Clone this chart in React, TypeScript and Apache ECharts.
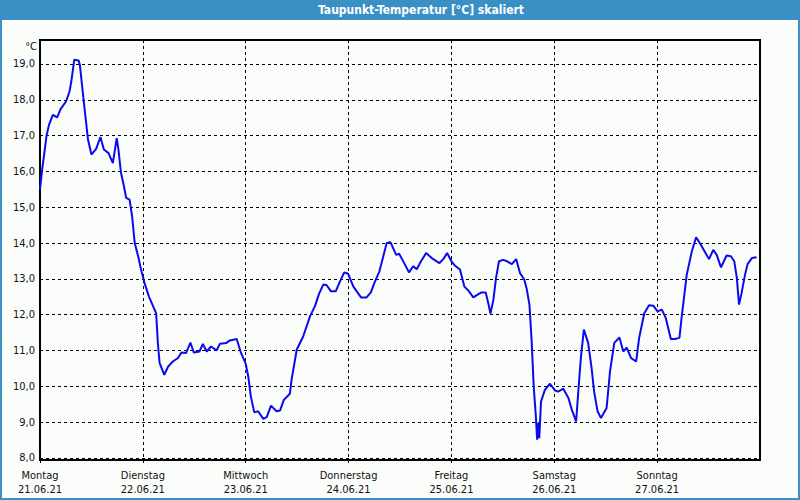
import React, { useEffect, useRef } from "react";
import * as echarts from "echarts";

const TITLE = "Taupunkt-Temperatur [°C] skaliert";
const UNIT = "°C";
const DAY_NAMES = ["Montag", "Dienstag", "Mittwoch", "Donnerstag", "Freitag", "Samstag", "Sonntag"];
const DAY_DATES = ["21.06.21", "22.06.21", "23.06.21", "24.06.21", "25.06.21", "26.06.21", "27.06.21"];

// hours since Monday 00:00
const HOURS = [
  0, 0.5, 1, 1.5, 2.1, 3, 4, 4.8, 6.1, 6.9, 7.3, 8, 9, 9.3, 10, 10.6, 11.2, 12, 13.1, 14.1,
  14.9, 16, 17, 17.9, 18.3, 18.9, 19.6, 20.1, 20.9, 21.5, 22.1, 22.9, 23.6, 24.4, 25.4, 26.4, 27.1, 27.5, 27.9, 29,
  29.9, 31, 32.2, 33, 34.1, 35.1, 35.9, 37.2, 38, 38.9, 39.9, 41.2, 42, 43.5, 44.3, 45.9, 46.9, 48, 48.6, 49.2,
  50, 50.9, 52.1, 52.9, 53.9, 55.2, 56, 56.9, 58.3, 58.7, 59.9, 61.4, 63, 64.2, 65.1, 66.1, 66.9, 67.9, 69, 70,
  71, 71.9, 73.1, 73.9, 74.9, 76.2, 77.2, 78, 79.2, 80.1, 80.9, 81.8, 83.1, 83.8, 85.2, 86.1, 87.1, 87.9, 88.9, 90.1,
  91.4, 93.2, 94.1, 95, 96, 96.8, 98, 99, 100.1, 101.1, 102.1, 103, 104, 104.6, 105.1, 105.8, 106.4, 107.1, 108.1, 109,
  110.1, 111.1, 112, 113, 113.6, 114.2, 114.7, 115.2, 115.7, 116, 116.3, 116.5, 116.9, 117.8, 119, 120.2, 120.9, 122.1, 123.3, 124.1,
  125.1, 125.6, 126.2, 126.9, 127.9, 128.7, 129.3, 130.1, 130.9, 132.2, 133, 134, 135.2, 136.1, 136.9, 137.9, 139.1, 139.8, 141, 142.1,
  143.1, 144.1, 145.1, 146, 147.2, 148.2, 149.2, 149.7, 150.9, 152.1, 153.1, 154.4, 156.1, 157.1, 157.9, 158.9, 160.2, 161.2, 162, 162.6,
  163.1, 163.7, 164.5, 165.1, 166.1, 167.2,
];

const DEWPOINT = [
  15.5, 16.05, 16.5, 16.98, 17.3, 17.58, 17.51, 17.74, 17.96, 18.24, 18.51, 19.12, 19.1, 18.98, 18.19, 17.54, 16.89, 16.47, 16.63, 16.96,
  16.61, 16.51, 16.23, 16.93, 16.61, 15.96, 15.58, 15.26, 15.21, 14.74, 14.0, 13.63, 13.25, 12.88, 12.51, 12.23, 12.04, 11.21, 10.65, 10.32,
  10.55, 10.69, 10.79, 10.94, 10.93, 11.22, 10.94, 10.97, 11.18, 10.97, 11.11, 11.0, 11.19, 11.21, 11.28, 11.32, 10.93, 10.63, 10.27, 9.71,
  9.27, 9.3, 9.09, 9.14, 9.46, 9.3, 9.32, 9.62, 9.79, 10.18, 11.02, 11.39, 11.95, 12.25, 12.58, 12.84, 12.82, 12.65, 12.65, 12.93,
  13.18, 13.14, 12.79, 12.65, 12.48, 12.48, 12.62, 12.88, 13.21, 13.63, 14.0, 14.02, 13.67, 13.7, 13.39, 13.18, 13.35, 13.27, 13.49, 13.72,
  13.58, 13.44, 13.55, 13.72, 13.49, 13.37, 13.26, 12.79, 12.65, 12.48, 12.56, 12.62, 12.62, 12.32, 12.03, 12.42, 13.02, 13.49, 13.53, 13.49,
  13.41, 13.55, 13.16, 12.98, 12.7, 12.28, 11.3, 9.99, 9.16, 8.51, 8.97, 8.55, 9.57, 9.9, 10.07, 9.88, 9.85, 9.93, 9.67, 9.34,
  9.02, 9.85, 10.79, 11.58, 11.21, 10.51, 9.85, 9.3, 9.11, 9.39, 10.41, 11.21, 11.36, 10.97, 11.08, 10.79, 10.69, 11.35, 12.04, 12.26,
  12.25, 12.09, 12.14, 11.91, 11.32, 11.32, 11.35, 11.91, 13.11, 13.77, 14.16, 13.91, 13.55, 13.81, 13.67, 13.32, 13.65, 13.63, 13.49, 13.02,
  12.28, 12.6, 13.11, 13.41, 13.58, 13.6,
];

const Y_MIN = 7.94;
const Y_MAX = 19.67;
const X_MAX = 168;

const FONT = "'DejaVu Sans Condensed', 'DejaVu Sans', sans-serif";
const BLUE = "#3a8fc4";

export default function App() {
  const ref = useRef<HTMLDivElement>(null);

  useEffect(() => {
    if (!ref.current) return;
    const chart = echarts.init(ref.current, null, { renderer: "svg" });
    const data = HOURS.map((h, i) => [h, DEWPOINT[i]]);
    chart.setOption({
      animation: false,
      backgroundColor: "#fbfdfb",
      textStyle: { fontFamily: FONT },
      grid: {
        left: 40,
        right: 40,
        top: 40,
        bottom: 40,
        containLabel: false,
        show: true,
        borderColor: "#000",
        borderWidth: 2,
        backgroundColor: "transparent",
      },
      xAxis: {
        type: "value",
        min: 0,
        max: X_MAX,
        interval: 24,
        axisLine: { show: true, lineStyle: { color: "#000", width: 2 } },
        axisTick: { show: true, length: 3, lineStyle: { color: "#000", width: 1 } },
        splitLine: { show: true, lineStyle: { color: "#000", width: 1, type: [3, 3] } },
        axisLabel: {
          color: "#111",
          fontSize: 11,
          fontFamily: FONT,
          lineHeight: 14,
          margin: 8,
          showMaxLabel: false,
          formatter: (v: number) => {
            const i = Math.round(v / 24);
            if (i < 0 || i >= DAY_NAMES.length) return "";
            return DAY_NAMES[i] + "\n" + DAY_DATES[i];
          },
        },
      },
      yAxis: {
        type: "value",
        min: Y_MIN,
        max: Y_MAX,
        splitNumber: 11,
        axisLine: { show: true, lineStyle: { color: "#000", width: 2 } },
        axisTick: { show: false },
        splitLine: { show: true, lineStyle: { color: "#000", width: 1, type: [3, 3] } },
        axisLabel: {
          color: "#111",
          fontSize: 11,
          fontFamily: FONT,
          margin: 5,
          formatter: (v: number) => {
            if (Math.abs(v - Math.round(v)) > 1e-6) return "";
            return v.toFixed(1).replace(".", ",");
          },
        },
      },
      graphic: [
        {
          type: "rect",
          z: 100,
          shape: { x: 0, y: 0, width: 800, height: 20 },
          style: { fill: BLUE },
        },
        {
          type: "text",
          z: 101,
          x: 421,
          y: 10,
          style: {
            text: TITLE,
            fill: "#fff",
            font: `bold 12px ${FONT}`,
            align: "center",
            verticalAlign: "middle",
          },
        },
        {
          type: "rect",
          z: 100,
          shape: { x: 1, y: 1, width: 798, height: 498 },
          style: { fill: "none", stroke: BLUE, lineWidth: 2 },
        },
        {
          type: "text",
          z: 101,
          x: 37,
          y: 46,
          style: {
            text: UNIT,
            fill: "#111",
            font: `11px ${FONT}`,
            align: "right",
            verticalAlign: "middle",
          },
        },
      ],
      series: [
        {
          type: "line",
          data,
          showSymbol: false,
          symbol: "none",
          lineStyle: { color: "#0a0aee", width: 2 },
          z: 5,
        },
      ],
    });
    return () => chart.dispose();
  }, []);

  return (
    <div
      ref={ref}
      style={{ position: "fixed", left: 0, top: 0, width: 800, height: 500 }}
    />
  );
}
